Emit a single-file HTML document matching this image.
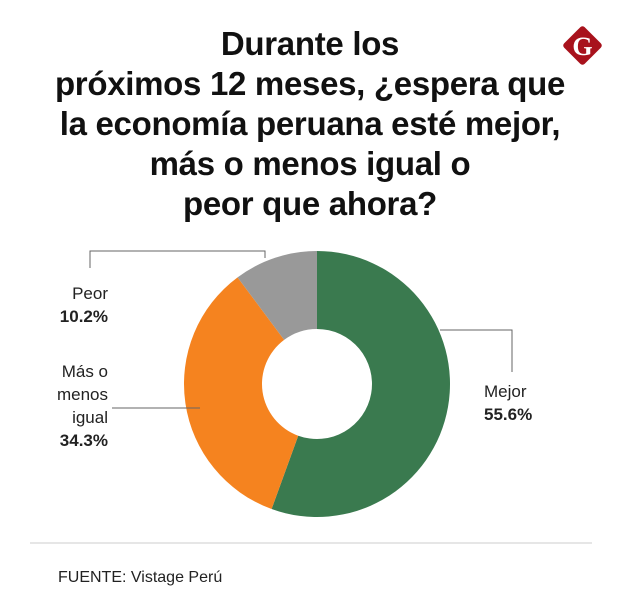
<!DOCTYPE html>
<html><head><meta charset="utf-8"><style>
body{margin:0;background:#fff;font-family:"Liberation Sans",sans-serif}
#wrap{position:relative;width:620px;height:615px;overflow:hidden}
.t{position:absolute;left:0;width:620px;text-align:center;font-weight:bold;font-size:33px;color:#111;line-height:40px;top:24px;letter-spacing:-0.3px}
.l{position:absolute;font-size:17px;color:#222;line-height:23px}
</style></head><body>
<div id="wrap">
<div class="t">Durante los<br>próximos 12 meses, ¿espera que<br>la economía peruana esté mejor,<br>más o menos igual o<br>peor que ahora?</div>
<svg width="620" height="615" style="position:absolute;left:0;top:0" id="svg">
<g>
<rect x="568" y="31" width="29" height="29" rx="3" fill="#a8121c" transform="rotate(45 582.5 45.5)"/>
<text x="582.5" y="55" text-anchor="middle" font-family="Liberation Serif" font-weight="bold" font-size="26" fill="#fff">G</text>
</g>
<g id="slices"></g>
<polyline points="90,268 90,251 265,251 265,258" fill="none" stroke="#666"/>
<polyline points="440,330 512,330 512,372" fill="none" stroke="#666"/>
<polyline points="112,408 200,408" fill="none" stroke="#666"/>
<line x1="30" y1="543" x2="592" y2="543" stroke="#ccc"/>
</svg>
<div class="l" style="right:512px;top:282px;text-align:right">Peor<br><b>10.2%</b></div>
<div class="l" style="right:512px;top:360px;text-align:right">Más o<br>menos<br>igual<br><b>34.3%</b></div>
<div class="l" style="left:484px;top:380px">Mejor<br><b>55.6%</b></div>
<div class="l" style="left:58px;top:566px;font-size:16px">FUENTE: Vistage Perú</div>
</div>
<script>
const categories=["Mejor","Más o menos igual","Peor"];
const values=[55.6,34.3,10.2];
const colors=["#3a7a4f","#f5831f","#999999"];
const cx=317,cy=384,R=133,r=55;
const g=document.getElementById('slices');
const tot=values.reduce((a,b)=>a+b,0);
let a0=-Math.PI/2;
function pt(rad,a){return [cx+rad*Math.cos(a),cy+rad*Math.sin(a)];}
values.forEach((v,i)=>{
 const a1=a0+v/tot*2*Math.PI;
 const lg=(a1-a0)>Math.PI?1:0;
 const [x0,y0]=pt(R,a0),[x1,y1]=pt(R,a1),[x2,y2]=pt(r,a1),[x3,y3]=pt(r,a0);
 const p=document.createElementNS('http://www.w3.org/2000/svg','path');
 p.setAttribute('d',`M${x0},${y0}A${R},${R} 0 ${lg} 1 ${x1},${y1}L${x2},${y2}A${r},${r} 0 ${lg} 0 ${x3},${y3}Z`);
 p.setAttribute('fill',colors[i]);
 
 
 g.appendChild(p);
 a0=a1;
});
</script>
</body></html>
